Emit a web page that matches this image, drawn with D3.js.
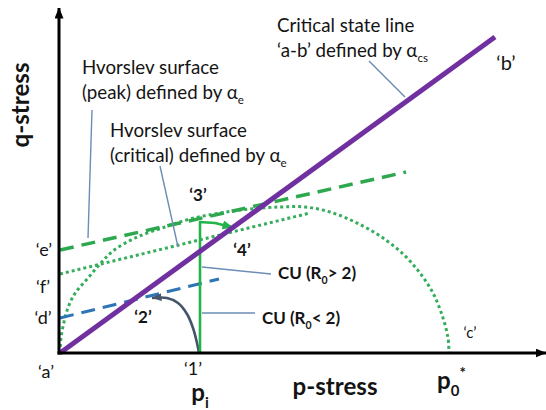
<!DOCTYPE html>
<html>
<head>
<meta charset="utf-8">
<script src="https://cdn.jsdelivr.net/npm/d3@7"></script>
<style>
  html, body { margin: 0; padding: 0; background: #fff; }
  svg { display: block; }
</style>
</head>
<body>
<svg id="chart" width="546" height="410"></svg>
<script>
// ---- values, in p-q stress units ----
const pMax = 97.2, qMax = 69;
const pI = 28;                 // initial mean effective stress p_i
const p0Star = 77.8;           // yield surface size p0*
const cslLine = [[0, 0], [87, 63.2]];            // critical state line 'a-b'
const hvPeak = [[0, 20.6], [69.2, 36.2]];        // Hvorslev surface (peak), from 'e'
const hvCritical = [[0, 15.8], [50, 28]];        // Hvorslev surface (critical), from 'f'
const dLine = [[0, 7], [31.8, 14.8]];            // line from 'd'
const yieldSurface = [
  [0, 0], [0.2, 3], [0.8, 6.2], [1.8, 9.6], [3.2, 12.2], [5.6, 15], [8, 17.8],
  [10.6, 20.4], [15, 23], [21, 25.2], [26, 26.8], [32, 28], [38, 28.8], [44, 29.2],
  [49, 29.2], [54, 28.2], [59, 26.2], [64, 23.4], [68.4, 20], [72, 16], [74.8, 11.6],
  [76.6, 7], [77.6, 3], [77.8, 0]
];
const cuHigh = [[28, 0], [28, 26.2], [31, 26], [34.6, 25.1]];        // CU (R0 > 2): '1' -> '3' -> '4'
const cuLow = [[27.8, 0], [27.4, 2], [26.6, 5], [25.4, 7.8], [23.6, 10], [21.4, 11], [18.4, 11]]; // CU (R0 < 2): '1' -> '2'

const FONT = "Lato, 'Open Sans', 'Liberation Sans', sans-serif";
const INK = "#141414";
const PURPLE = "#7030a0", GREEN = "#2ea84f", GREEN_DOT = "#35ad5c", CU_GREEN = "#22b34a";
const BLUE = "#2e75b6", SLATE = "#44546a", LEADER = "#6d8db6";

const svg = d3.select("#chart");
const x = d3.scaleLinear().domain([0, pMax]).range([60, 546]);
const y = d3.scaleLinear().domain([0, qMax]).range([353, 8]);
const line = d3.line().x(d => x(d[0])).y(d => y(d[1]));

// arrowheads
const defs = svg.append("defs");
function arrowMarker(id, color, len, wid) {
  defs.append("marker").attr("id", id)
    .attr("markerUnits", "userSpaceOnUse")
    .attr("viewBox", `0 0 ${len} ${wid}`)
    .attr("markerWidth", len).attr("markerHeight", wid)
    .attr("refX", len - 0.5).attr("refY", wid / 2)
    .attr("orient", "auto")
    .append("path").attr("d", `M0,0L${len},${wid / 2}L0,${wid}Z`).attr("fill", color);
}
arrowMarker("axisHead", "#000", 11, 9);
arrowMarker("greenHead", CU_GREEN, 11, 9);
arrowMarker("slateHead", SLATE, 10, 8);

// yield surface 'a'-'c'
svg.append("path").datum(yieldSurface)
  .attr("d", line.curve(d3.curveCatmullRom)).attr("fill", "none")
  .attr("stroke", GREEN_DOT).attr("stroke-width", 3).attr("stroke-dasharray", "3 3");
line.curve(d3.curveLinear);

// Hvorslev critical (dotted) and peak (dashed)
svg.append("path").datum(hvCritical).attr("d", line).attr("fill", "none")
  .attr("stroke", GREEN_DOT).attr("stroke-width", 3).attr("stroke-dasharray", "3 3");
svg.append("path").datum(hvPeak).attr("d", line).attr("fill", "none")
  .attr("stroke", GREEN).attr("stroke-width", 3.5).attr("stroke-dasharray", "14 8");
svg.append("path").datum(dLine).attr("d", line).attr("fill", "none")
  .attr("stroke", BLUE).attr("stroke-width", 3).attr("stroke-dasharray", "14 8");

// leader lines from the notes to the lines they describe
const leaders = [
  [[92, 110], [88, 238]],
  [[160, 166], [178, 247]],
  [[369, 61], [405, 97]],
  [[x(pI) + 2, 267], [271, 274]],
  [[x(pI) + 2, 313], [255, 313]]
];
svg.append("g").selectAll("line").data(leaders).join("line")
  .attr("x1", d => d[0][0]).attr("y1", d => d[0][1])
  .attr("x2", d => d[1][0]).attr("y2", d => d[1][1])
  .attr("stroke", LEADER).attr("stroke-width", 1.4);

// undrained stress paths
svg.append("path").datum(cuLow).attr("d", line.curve(d3.curveCatmullRom)).attr("fill", "none")
  .attr("stroke", SLATE).attr("stroke-width", 2.6).attr("marker-end", "url(#slateHead)");
line.curve(d3.curveLinear);
svg.append("path").datum(cuHigh).attr("d", line).attr("fill", "none")
  .attr("stroke", CU_GREEN).attr("stroke-width", 2.6).attr("stroke-linejoin", "round")
  .attr("marker-end", "url(#greenHead)");

// critical state line
svg.append("path").datum(cslLine).attr("d", line).attr("fill", "none")
  .attr("stroke", PURPLE).attr("stroke-width", 5);

// axes
svg.append("line").attr("x1", x(0) - 1).attr("y1", y(0) + 1.5).attr("x2", x(0) - 1).attr("y2", y(qMax))
  .attr("stroke", "#000").attr("stroke-width", 3).attr("marker-end", "url(#axisHead)");
svg.append("line").attr("x1", x(0) - 2.5).attr("y1", y(0)).attr("x2", x(pMax)).attr("y2", y(0))
  .attr("stroke", "#000").attr("stroke-width", 3).attr("marker-end", "url(#axisHead)");

// ---- text ----
function sizeFor(str, weight, target) {
  const t = svg.append("text").attr("font-family", FONT).attr("font-weight", weight)
    .attr("font-size", 100).text(str);
  const w = t.node().getComputedTextLength();
  t.remove();
  return 100 * target / w;
}
function rich(px, py, parts, size, weight, anchor) {
  const t = svg.append("text").attr("x", px).attr("y", py)
    .attr("font-family", FONT).attr("font-size", size).attr("font-weight", weight || 400)
    .attr("fill", INK).attr("text-anchor", anchor || "start");
  let shift = 0;
  parts.forEach(pt => {
    const off = pt.sub ? size * 0.28 : pt.sup ? -size * 0.45 : 0;
    const ts = t.append("tspan").text(pt.t);
    if (pt.sub || pt.sup) ts.attr("font-size", size * 0.62);
    if (off !== shift) ts.attr("dy", off - shift);
    shift = off;
  });
  return t;
}

const noteSize = sizeFor("Hvorslev surface", 400, 137);
rich(277, 32, [{ t: "Critical state line" }], noteSize);
rich(277, 57, [{ t: "\u2018a-b\u2019 defined by \u03B1" }, { t: "cs", sub: true }], noteSize);
rich(82, 74, [{ t: "Hvorslev surface" }], noteSize);
rich(82, 99, [{ t: "(peak) defined by \u03B1" }, { t: "e", sub: true }], noteSize);
rich(110, 137, [{ t: "Hvorslev surface" }], noteSize);
rich(110, 162, [{ t: "(critical) defined by \u03B1" }, { t: "e", sub: true }], noteSize);

const cuSize = sizeFor("CU (R0 > 2)", 700, 86);
rich(278, 279, [{ t: "CU (R" }, { t: "0", sub: true }, { t: "> 2)" }], cuSize, 700);
rich(262, 324, [{ t: "CU (R" }, { t: "0", sub: true }, { t: "< 2)" }], cuSize, 700);

const axisSize = sizeFor("p-stress", 700, 85);
rich(335, 395, [{ t: "p-stress" }], axisSize, 700, "middle");
svg.append("text").attr("transform", "translate(29,105) rotate(-90)")
  .attr("text-anchor", "middle").attr("font-family", FONT).attr("font-weight", 700)
  .attr("font-size", axisSize).attr("fill", INK).text("q-stress");
rich(x(pI), 401, [{ t: "p" }, { t: "i", sub: true }], axisSize, 700, "middle");
rich(x(p0Star) - 12, 389, [{ t: "p" }, { t: "0", sub: true }, { t: "*", sup: true }], axisSize, 700, "start");

// point letters
const pointLabels = [
  { t: "\u2018a\u2019", px: x(0) - 14, py: y(0) + 19, w: 400, s: 18 },
  { t: "\u20181\u2019", px: x(pI) - 7, py: y(0) + 16, w: 400, s: 18 },
  { t: "\u20182\u2019", px: 143, py: 317, w: 700, s: 17 },
  { t: "\u20183\u2019", px: x(pI) - 2, py: 195, w: 700, s: 17 },
  { t: "\u20184\u2019", px: 242, py: 250, w: 700, s: 17 },
  { t: "\u2018d\u2019", px: x(0) - 17, py: y(7), w: 400, s: 18 },
  { t: "\u2018f\u2019", px: x(0) - 17, py: 287, w: 400, s: 18 },
  { t: "\u2018e\u2019", px: x(0) - 16, py: y(20.6), w: 400, s: 18 },
  { t: "\u2018c\u2019", px: x(p0Star) + 21, py: 333, w: 400, s: 15 },
  { t: "\u2018b\u2019", px: 506, py: 63, w: 400, s: 20 }
];
svg.append("g").selectAll("text").data(pointLabels).join("text")
  .attr("x", d => d.px).attr("y", d => d.py).attr("dy", "0.35em")
  .attr("text-anchor", "middle").attr("font-family", FONT)
  .attr("font-weight", d => d.w).attr("font-size", d => d.s).attr("fill", INK)
  .text(d => d.t);
</script>
</body>
</html>
